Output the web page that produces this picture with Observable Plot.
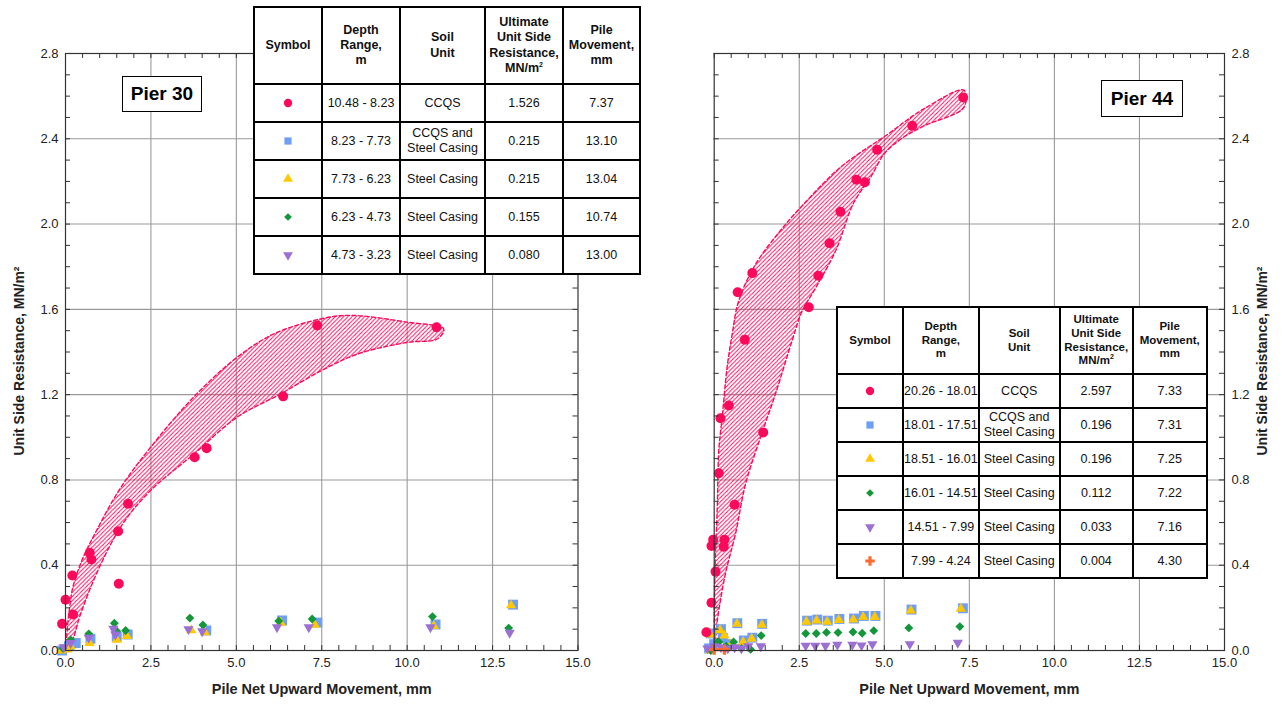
<!DOCTYPE html>
<html><head><meta charset="utf-8">
<script src="https://cdn.jsdelivr.net/npm/d3@7"></script>
<script src="https://cdn.jsdelivr.net/npm/@observablehq/plot@0.6"></script>
<style>
body{margin:0;background:#fff;font-family:"Liberation Sans",Arial,Helvetica,sans-serif;}
#wrap{position:relative;width:1282px;height:704px;overflow:hidden;}
.panel{position:absolute;top:0;}
table.leg{position:absolute;border-collapse:collapse;background:#fff;table-layout:fixed;z-index:5;}
table.leg td{border:2px solid #000;text-align:center;vertical-align:middle;padding:0;font-size:12.5px;line-height:1.18;color:#111;overflow:hidden;white-space:nowrap;}
table.leg tr.h td{font-weight:bold;}
table.t30 tr.h td{font-size:12.5px;line-height:1.22;}
table.t44 tr.h td{font-size:11.5px;line-height:1.2;}
table.t44 td{font-size:12.5px;}
table.leg sup{font-size:7px;vertical-align:5px;line-height:0;}
.pier{position:absolute;border:1px solid #000;background:#fff;font-weight:bold;font-size:19px;display:flex;align-items:center;justify-content:center;z-index:5;box-sizing:border-box;}
</style></head><body><div id="wrap"></div>
<script>
// ---------------- DATA ----------------
const xMajor = [0, 2.5, 5, 7.5, 10, 12.5, 15];
const yMajor = [0, 0.4, 0.8, 1.2, 1.6, 2.0, 2.4, 2.8];
const xLabel = "Pile Net Upward Movement, mm";
const yLabel = "Unit Side Resistance, MN/m²";

// Pier 30 series [movement mm, unit side resistance MN/m2]
const p30Circle = [[-0.1,0.125],[0.0,0.238],[0.22,0.169],[0.20,0.352],[0.71,0.458],[0.76,0.427],[1.54,0.559],[1.56,0.313],[1.83,0.688],[3.78,0.906],[4.13,0.949],[6.37,1.192],[7.37,1.524],[10.86,1.516]];
const p30Square = [[-0.1,0.0],[0.1,0.02],[0.3,0.035],[0.73,0.055],[1.5,0.065],[1.82,0.075],[4.12,0.094],[6.34,0.141],[7.37,0.131],[10.83,0.122],[13.10,0.215]];
const p30Triangle = [[-0.12,0.0],[0.05,0.005],[0.15,0.02],[0.7,0.035],[1.5,0.05],[1.8,0.068],[3.68,0.095],[4.08,0.085],[6.3,0.13],[7.3,0.12],[10.78,0.115],[13.04,0.212]];
const p30Diamond = [[-0.08,0.01],[0.15,0.05],[0.68,0.078],[1.43,0.128],[1.5,0.09],[1.76,0.094],[3.64,0.152],[4.02,0.12],[6.24,0.138],[7.22,0.148],[10.74,0.159],[12.97,0.105]];
const p30Down = [[-0.05,0.015],[0.15,0.035],[0.68,0.06],[1.40,0.102],[1.46,0.075],[3.6,0.1],[4.0,0.09],[6.19,0.109],[7.12,0.109],[10.68,0.109],[13.0,0.083]];
const p30BandUpper = [[0.02,0.0],[0.05,0.1],[0.12,0.2],[0.22,0.3],[0.5,0.43],[0.9,0.56],[1.6,0.76],[2.49,0.953],[3.76,1.19],[5.02,1.375],[6.1,1.485],[7.46,1.555],[8.34,1.572],[10.0,1.54],[11.07,1.508]];
const p30BandLower = [[10.88,1.461],[10.0,1.445],[8.54,1.39],[7.46,1.31],[6.29,1.203],[5.02,1.094],[3.76,0.922],[2.49,0.75],[1.7,0.6],[1.02,0.40],[0.44,0.17],[0.24,0.06],[0.13,0.0]];

// Pier 44 series
const p44Circle = [[-0.23,0.086],[-0.08,0.224],[0.04,0.37],[-0.08,0.49],[-0.03,0.52],[0.28,0.487],[0.30,0.52],[0.6,0.684],[0.135,0.831],[0.185,1.089],[0.43,1.149],[1.44,1.023],[0.90,1.458],[0.69,1.68],[1.12,1.77],[2.78,1.61],[3.06,1.758],[3.39,1.91],[3.71,2.058],[4.18,2.208],[4.43,2.196],[4.79,2.349],[5.82,2.461],[7.32,2.594]];
const p44Square = [[-0.15,0.01],[-0.1,0.08],[0.0,0.03],[0.2,0.10],[0.25,0.06],[0.4,0.03],[0.68,0.128],[0.87,0.047],[1.12,0.06],[1.41,0.125],[2.73,0.14],[3.03,0.145],[3.34,0.14],[3.68,0.148],[4.11,0.15],[4.40,0.162],[4.74,0.162],[5.80,0.192],[7.31,0.198]];
const p44Triangle = [[-0.12,0.0],[-0.12,0.075],[0.02,0.02],[0.17,0.095],[0.3,0.07],[0.5,0.03],[0.67,0.125],[0.85,0.04],[1.1,0.055],[1.4,0.12],[2.71,0.135],[3.01,0.14],[3.32,0.135],[3.66,0.143],[4.09,0.145],[4.38,0.157],[4.72,0.157],[5.78,0.187],[7.25,0.196]];
const p44Diamond = [[-0.1,0.0],[0.1,0.04],[0.135,0.04],[0.35,0.02],[0.57,0.04],[0.8,0.01],[1.07,0.005],[1.38,0.07],[2.69,0.08],[3.0,0.08],[3.30,0.085],[3.64,0.084],[4.08,0.087],[4.35,0.081],[4.69,0.093],[5.72,0.106],[7.22,0.112]];
const p44Down = [[-0.2,0.01],[0.0,0.02],[0.2,0.015],[0.4,0.01],[0.6,0.015],[0.8,0.01],[1.0,0.02],[1.37,0.02],[2.69,0.023],[2.97,0.022],[3.27,0.022],[3.62,0.027],[4.06,0.027],[4.33,0.024],[4.65,0.03],[5.75,0.03],[7.16,0.036]];
const p44Cross = [[0.0,0.004],[0.3,0.004]];
const p44BandUpper = [[0.0,0.04],[0.0,0.11],[0.02,0.36],[0.09,0.672],[0.135,0.94],[0.235,1.094],[0.38,1.33],[0.53,1.485],[0.72,1.64],[1.21,1.81],[1.95,1.97],[2.54,2.078],[3.71,2.266],[5.09,2.42],[6.16,2.54],[7.34,2.628]];
const p44BandLower = [[7.34,2.547],[6.16,2.46],[5.5,2.4],[5.0,2.33],[4.6,2.22],[4.1,2.1],[3.57,1.875],[2.98,1.70],[2.59,1.594],[2.29,1.453],[1.80,1.203],[1.36,1.0],[0.92,0.78],[0.63,0.55],[0.33,0.36],[0.09,0.14],[0.02,0.04]];

// Legend tables
const tblHeader = ["Symbol","Depth<br>Range,<br>m","Soil<br>Unit","Ultimate<br>Unit Side<br>Resistance,<br>MN/m<sup>2</sup>","Pile<br>Movement,<br>mm"];
const p30Symbols = ["circle","square","triangle","diamond","down"];
const p30Depth = ["10.48 - 8.23","8.23 - 7.73","7.73 - 6.23","6.23 - 4.73","4.73 - 3.23"];
const p30Soil = ["CCQS","CCQS and<br>Steel Casing","Steel Casing","Steel Casing","Steel Casing"];
const p30Ult = ["1.526","0.215","0.215","0.155","0.080"];
const p30Move = ["7.37","13.10","13.04","10.74","13.00"];
const p44Symbols = ["circle","square","triangle","diamond","down","cross"];
const p44Depth = ["20.26 - 18.01","18.01 - 17.51","18.51 - 16.01","16.01 - 14.51","14.51 - 7.99","7.99 - 4.24"];
const p44Soil = ["CCQS","CCQS and<br>Steel Casing","Steel Casing","Steel Casing","Steel Casing","Steel Casing"];
const p44Ult = ["2.597","0.196","0.196","0.112","0.033","0.004"];
const p44Move = ["7.33","7.31","7.25","7.22","7.16","4.30"];

// ---------------- STYLE ----------------
const C = {circle:"#fb0a5b", square:"#6e9ef5", triangle:"#ffc800", diamond:"#13973a", down:"#9b6fd3", cross:"#ff6a30"};
const gridColor = "#9a9a9a", axisColor = "#333";
const downTriangle = { draw(ctx, size) { const k = Math.sqrt(size / (3 * Math.sqrt(3))); ctx.moveTo(0, 2*k); ctx.lineTo(-Math.sqrt(3)*k, -k); ctx.lineTo(Math.sqrt(3)*k, -k); ctx.closePath(); } };
const symType = {circle:d3.symbolCircle, square:d3.symbolSquare, triangle:d3.symbolTriangle, diamond:d3.symbolDiamond2, down:downTriangle, cross:d3.symbolCross};
const symR = {circle:5, square:5.6, triangle:3.8, diamond:4, down:3.8, cross:4.2};
const symPlot = {circle:"circle", square:"square", triangle:"triangle", diamond:"diamond2", down:downTriangle, cross:"cross"};

const H = 704, MT = 53, MB = 54;
const xMinor = d3.range(0, 15.0001, 0.5);
const yMinor = d3.range(0, 2.8001, 0.1);
const f1 = d3.format(".1f");

function panel({width, ml, mr, yAnchor, upper, lower, series, hatch, yDx}) {
  const fw = width - ml - mr, fh = H - MT - MB;
  const band = [...upper, ...lower, upper[0]];
  const dots = series.map(([key, data]) => Plot.dot(data, {x: d => d[0], y: d => d[1], symbol: symPlot[key], r: symR[key], fill: C[key], stroke: "none"}));
  const svg = Plot.plot({
    width, height: H, marginLeft: ml, marginRight: mr, marginTop: MT, marginBottom: MB,
    x: {domain: [0, 15]}, y: {domain: [0, 2.8]},
    style: {fontFamily: '"Liberation Sans", Arial, Helvetica, sans-serif', fontSize: "13px", color: "#222", background: "transparent", overflow: "visible"},
    marks: [
      Plot.gridX(xMajor.slice(1, -1), {stroke: gridColor, strokeOpacity: 1, strokeWidth: 1.1}),
      Plot.gridY(yMajor.slice(1, -1), {stroke: gridColor, strokeOpacity: 1, strokeWidth: 1.1}),
      Plot.line(band, {x: d => d[0], y: d => d[1], curve: "catmull-rom", fill: `url(#${hatch})`, stroke: C.circle, strokeWidth: 1.4, strokeDasharray: "4,2.5"}),
      ...dots,
      Plot.ruleX(xMinor, {insetTop: fh - 5, stroke: axisColor}),
      Plot.ruleX(xMinor, {insetBottom: fh - 5, stroke: axisColor}),
      Plot.ruleY(yMinor, {insetRight: fw - 5, stroke: axisColor}),
      Plot.ruleY(yMinor, {insetLeft: fw - 5, stroke: axisColor}),
      Plot.frame({stroke: axisColor, strokeWidth: 1.2}),
      Plot.axisX(xMajor, {anchor: "bottom", tickSize: 0, tickPadding: 7, tickFormat: f1, label: null}),
      Plot.axisY(yMajor, {anchor: yAnchor, tickSize: 0, tickPadding: 7, tickFormat: f1, label: null}),
      Plot.text([xLabel], {text: d => d, frameAnchor: "bottom", dy: 43, fontWeight: "bold", fontSize: 14.5}),
      Plot.text([yLabel], {text: d => d, frameAnchor: yAnchor, textAnchor: "middle", dx: yDx, dy: 9, rotate: -90, fontWeight: "bold", fontSize: 14})
    ]
  });
  d3.select(svg).insert("defs", ":first-child").html(
    `<pattern id="${hatch}" patternUnits="userSpaceOnUse" width="4.2" height="4.2"><path d="M-1.05,1.05 l2.1,-2.1 M0,4.2 l4.2,-4.2 M3.15,5.25 l2.1,-2.1" stroke="${C.circle}" stroke-width="1"/></pattern>`);
  return svg;
}

const wrap = document.getElementById("wrap");
function place(el, left) { const d = document.createElement("div"); d.className = "panel"; d.style.left = left + "px"; d.appendChild(el); wrap.appendChild(d); }

place(panel({width: 650, ml: 65, mr: 72.5, yAnchor: "left", yDx: -46, upper: p30BandUpper, lower: p30BandLower, hatch: "hatch30",
  series: [["square", p30Square], ["triangle", p30Triangle], ["diamond", p30Diamond], ["down", p30Down], ["circle", p30Circle]]}), 0);
place(panel({width: 632, ml: 63.7, mr: 58, yAnchor: "right", yDx: 38, upper: p44BandUpper, lower: p44BandLower, hatch: "hatch44",
  series: [["square", p44Square], ["triangle", p44Triangle], ["diamond", p44Diamond], ["down", p44Down], ["cross", p44Cross], ["circle", p44Circle]]}), 650);

function symbolSvg(key) {
  const size = {circle: 55, square: 52, triangle: 42, diamond: 38, down: 42, cross: 50}[key];
  const p = d3.symbol(symType[key], size)();
  return `<svg width="14" height="14" viewBox="-7 -7 14 14" style="display:block;margin:auto"><path d="${p}" fill="${C[key]}"/></svg>`;
}
function table({cls, left, top, cols, headH, rowH, symbols, depth, soil, ult, move}) {
  const t = document.createElement("table");
  t.className = "leg " + cls;
  t.style.left = left + "px"; t.style.top = top + "px";
  let html = "<colgroup>" + cols.map(w => `<col style="width:${w}px">`).join("") + "</colgroup>";
  html += `<tr class="h" style="height:${headH}px">` + tblHeader.map(h => `<td>${h}</td>`).join("") + "</tr>";
  symbols.forEach((s, i) => {
    html += `<tr style="height:${rowH}px"><td>${symbolSvg(s)}</td><td>${depth[i]}</td><td>${soil[i]}</td><td>${ult[i]}</td><td>${move[i]}</td></tr>`;
  });
  t.innerHTML = html;
  wrap.appendChild(t);
}
table({cls: "t30", left: 253, top: 6, cols: [68, 78, 85, 78, 77], headH: 77, rowH: 38, symbols: p30Symbols, depth: p30Depth, soil: p30Soil, ult: p30Ult, move: p30Move});
table({cls: "t44", left: 836, top: 306, cols: [66, 73, 81, 73, 74], headH: 67, rowH: 34, symbols: p44Symbols, depth: p44Depth, soil: p44Soil, ult: p44Ult, move: p44Move});

function pier(text, left, top, w, h) { const d = document.createElement("div"); d.className = "pier"; Object.assign(d.style, {left: left + "px", top: top + "px", width: w + "px", height: h + "px"}); d.textContent = text; wrap.appendChild(d); }
pier("Pier 30", 122, 76, 80, 36);
pier("Pier 44", 1101, 80, 82, 37);
</script>
</body></html>
